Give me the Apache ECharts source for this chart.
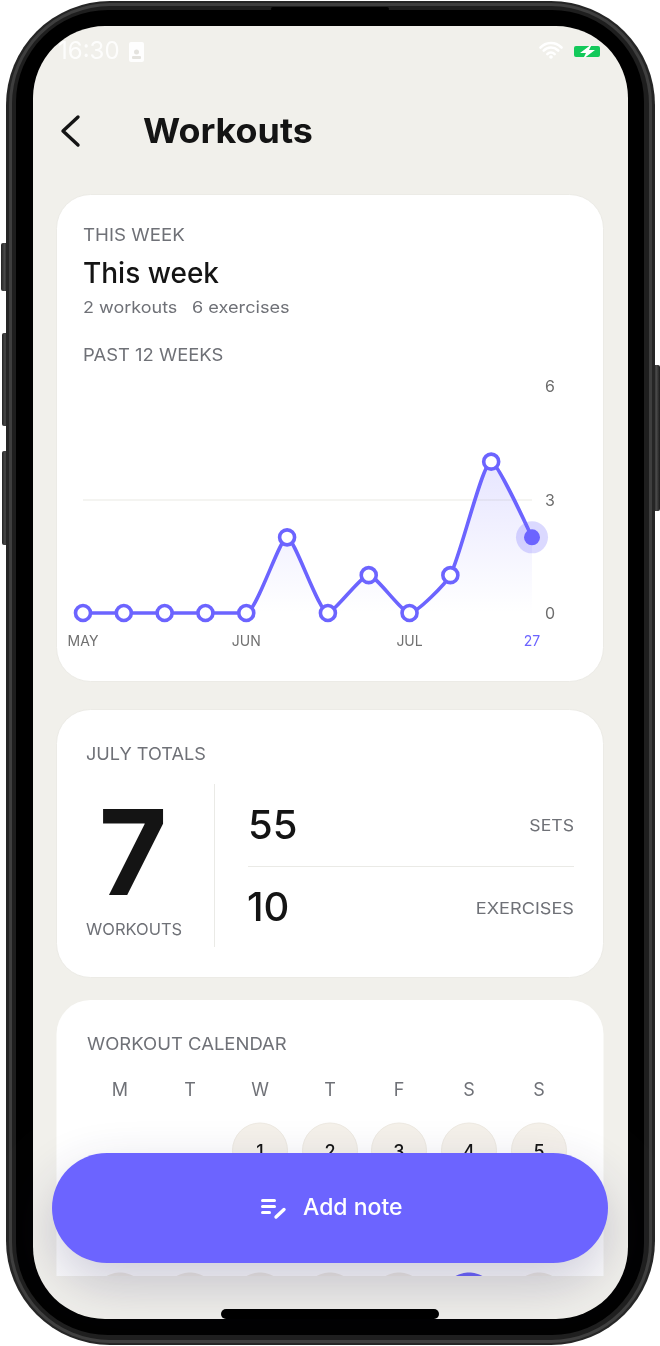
<!DOCTYPE html>
<html>
<head>
<meta charset="utf-8">
<title>Workouts</title>
<script src="https://cdn.jsdelivr.net/npm/echarts@6/dist/echarts.min.js"></script>
<style>
html, body { margin: 0; padding: 0; background: #fff; }
#main { width: 660px; height: 1346px; }
</style>
</head>
<body>
<div id="main"></div>
<script>
// past 12 weeks
var weekLabels = ['MAY', '', '', '', 'JUN', '', '', '', 'JUL', '', '', '27'];
var weeklyWorkouts = [0, 0, 0, 0, 0, 2, 0, 1, 0, 1, 4, 2];
var currentWeek = [null, null, null, null, null, null, null, null, null, null, null, 2];

// july totals
var totalWorkouts = '7';
var totalNames = ['SETS', 'EXERCISES'];
var totalValues = ['55', '10'];

// calendar
var weekDays = ['M', 'T', 'W', 'T', 'F', 'S', 'S'];
var firstRowDays = ['', '', '1', '2', '3', '4', '5'];

var FONT = 'Inter';
var PURPLE = '#6c64ff';
var BG = '#f1f0eb';
var GREY = '#6f7177';
var INK = '#141414';

var chart = echarts.init(document.getElementById('main'));

function box(x, y, w, h, r, fill, z, extra) {
    var el = {
        type: 'rect', silent: true, z: z,
        shape: { x: x, y: y, width: w, height: h, r: r },
        style: { fill: fill }
    };
    if (extra) Object.assign(el.style, extra);
    return el;
}

// stretch widens the text a little, the original font is wider and tracked out
function label(str, x, y, size, color, weight, align, z, stretch) {
    return {
        type: 'text', silent: true, z: z || -5, x: x, y: y + 3.5, scaleX: stretch || 1,
        style: {
            text: str, fill: color, align: align || 'left', verticalAlign: 'middle',
            font: (weight || 400) + ' ' + size + 'px ' + FONT
        }
    };
}

function stroke(points, color, width, z) {
    return {
        type: 'polyline', silent: true, z: z,
        shape: { points: points },
        style: { stroke: color, lineWidth: width, lineCap: 'round', lineJoin: 'round', fill: null }
    };
}

function arc(cx, cy, r) {
    return {
        type: 'arc', silent: true, z: -5,
        shape: { cx: cx, cy: cy, r: r, startAngle: -Math.PI * 0.76, endAngle: -Math.PI * 0.24 },
        style: { stroke: '#ffffff', lineWidth: 2.6, fill: null, lineCap: 'round' }
    };
}

// top of a day circle, cut off where the scrolling list ends
function dayCap(cx, cy, r, cutY, fill) {
    var half = Math.acos((cy - cutY) / r);
    var pts = [];
    for (var k = -8; k <= 8; k++) {
        var a = half * k / 8;
        pts.push([cx + Math.sin(a) * r, cy - Math.cos(a) * r]);
    }
    return { type: 'polygon', silent: true, z: -6, shape: { points: pts }, style: { fill: fill } };
}

var side = new echarts.graphic.LinearGradient(0, 0, 1, 0, [
    { offset: 0, color: '#242424' }, { offset: 0.5, color: '#484848' }, { offset: 1, color: '#1c1c1c' }
]);

var chrome = [
    // side buttons
    box(1, 243, 7, 48, 2, side, -20),
    box(2, 333, 6, 93, 2, side, -20),
    box(2, 451, 6, 94, 2, side, -20),
    box(653, 365, 7, 146, 2, side, -20),
    // phone body
    box(6, 1, 649, 1344, 104, '#252525', -19),
    box(9, 3, 643, 1340, 101, '#3e3e3e', -19),
    box(12, 6, 637, 1334, 98, '#1e1e1e', -19),
    box(16, 10, 628, 1325, 92, '#000000', -19),
    box(271, 7, 118, 4, 2, '#000000', -19),
    // screen
    box(33, 26, 595, 1293, 72, BG, -18),
    // cards
    box(56.5, 194.5, 547, 487, 34, '#ffffff', -17, { stroke: '#ecebe6', lineWidth: 1 }),
    box(56.5, 709.5, 547, 268, 34, '#ffffff', -17, { stroke: '#ecebe6', lineWidth: 1 }),
    box(56.5, 1000, 547, 276, [34, 34, 0, 0], '#ffffff', -17),
    // status bar
    label('16:30', 58, 48, 24, 'rgba(255,255,255,0.85)', 400),
    box(129, 42, 15, 20, 2, 'rgba(255,255,255,0.92)', -5),
    { type: 'circle', silent: true, z: -4, shape: { cx: 136.5, cy: 52, r: 2.5 }, style: { fill: '#e4e3de' } },
    box(132, 56, 9, 3, 1, '#e4e3de', -4),
    arc(551, 57.5, 5), arc(551, 57.5, 10), arc(551, 57.5, 14.5),
    { type: 'circle', silent: true, z: -5, shape: { cx: 551, cy: 57, r: 1.8 }, style: { fill: '#ffffff' } },
    box(574, 46, 26, 11, 2, '#13c95a', -5),
    { type: 'polygon', silent: true, z: -4, shape: { points: [[592, 44], [580, 53], [586, 53], [583, 59], [595, 50], [589, 50]] }, style: { fill: '#ffffff' } },
    // header
    stroke([[78, 117], [63, 131], [78, 145]], '#141414', 3.4, -5),
    label('Workouts', 143, 129, 34, INK, 700, 'left', -5, 1.055),
    // this week card
    label('THIS WEEK', 83, 232, 17, GREY, 400, 'left', -5, 1.1),
    label('This week', 83, 271, 28, INK, 500),
    label('2 workouts', 83, 305, 16.5, GREY, 400, 'left', -5, 1.09),
    label('6 exercises', 192, 305, 16.5, GREY, 400, 'left', -5, 1.1),
    label('PAST 12 WEEKS', 83, 352, 17, GREY, 400, 'left', -5, 1.085),
    // totals card
    label('JULY TOTALS', 86, 751, 17.5, GREY, 400, 'left', -5, 1.035),
    label(totalWorkouts, 133, 856, 118, INK, 700, 'center'),
    label('WORKOUTS', 86, 927, 16.5, GREY),
    box(214, 784, 1, 163, 0, '#eaeae6', -5),
    box(248, 866, 326, 1, 0, '#eaeae6', -5),
    label(totalValues[0], 248, 823, 40, INK, 500),
    label(totalValues[1], 247, 905, 40, INK, 500),
    label(totalNames[0], 574, 823, 16.5, GREY, 400, 'right', -5, 1.07),
    label(totalNames[1], 574, 906, 16.5, GREY, 400, 'right', -5, 1.1),
    // calendar card
    label('WORKOUT CALENDAR', 87, 1041, 17, GREY, 400, 'left', -5, 1.087)
];

var COLS = [120, 190, 260, 330, 399, 469, 539];
weekDays.forEach(function (d, i) {
    chrome.push(label(d, COLS[i], 1087, 18, GREY, 400, 'center'));
});
firstRowDays.forEach(function (d, i) {
    if (!d) return;
    chrome.push({
        type: 'circle', silent: true, z: -6, shape: { cx: COLS[i], cy: 1150.5, r: 27.5 },
        style: { fill: '#f5f1ea', stroke: '#eeeae2', lineWidth: 1 }
    });
    chrome.push(label(d, COLS[i], 1149, 18, INK, 500, 'center'));
});
// third row, only the tops show above the edge of the list
COLS.forEach(function (cx, i) {
    chrome.push(dayCap(cx, 1300, 27.5, 1276, i == 5 ? PURPLE : '#f0ece5'));
});

// floating button
chrome.push(box(221, 1309, 218, 10, 5, '#000000', 5));
chrome.push(box(52, 1153, 556, 110, 55, PURPLE, 4, {
    shadowColor: 'rgba(40,38,90,0.24)', shadowBlur: 55, shadowOffsetY: 22
}));
chrome.push(box(261, 1199, 15, 3, 1.5, '#ffffff', 6));
chrome.push(box(261, 1205, 15, 3, 1.5, '#ffffff', 6));
chrome.push(box(261, 1211, 10, 3, 1.5, '#ffffff', 6));
chrome.push(stroke([[276, 1217], [284, 1209.5]], '#ffffff', 3.4, 6));
chrome.push(label('Add note', 303, 1205, 23, '#ffffff', 500, 'left', 6));

var points = weeklyWorkouts.map(function (v, i) {
    if (i == weeklyWorkouts.length - 1) {
        return { value: v, symbolSize: 16, itemStyle: { color: PURPLE, borderColor: PURPLE, borderWidth: 0 } };
    }
    return v;
});

chart.setOption({
    animation: false,
    backgroundColor: '#ffffff',
    textStyle: { fontFamily: FONT },
    grid: { left: 83, top: 386, width: 449, height: 227, containLabel: false },
    xAxis: {
        type: 'category',
        boundaryGap: false,
        data: weekLabels,
        axisLine: { show: false },
        axisTick: { show: false },
        splitLine: { show: false },
        axisLabel: {
            interval: 0,
            hideOverlap: false,
            margin: 22,
            fontSize: 14,
            color: '#707070',
            formatter: function (v, i) {
                return i == weekLabels.length - 1 ? '{now|' + v + '}' : v;
            },
            rich: { now: { color: PURPLE, fontSize: 14, fontFamily: FONT } }
        }
    },
    yAxis: {
        type: 'value',
        position: 'right',
        min: 0,
        max: 6,
        interval: 3,
        axisLine: { show: false },
        axisTick: { show: false },
        axisLabel: {
            margin: 13,
            align: 'left',
            formatter: '{t|{value}}',
            rich: { t: { fontSize: 16, color: '#6d6d6d', fontFamily: FONT, padding: [3, 0, 0, 0] } }
        },
        splitLine: { showMinLine: false, showMaxLine: false, lineStyle: { color: '#f0f0ed', width: 1.5 } }
    },
    series: [
        {
            type: 'scatter',
            data: currentWeek,
            symbolSize: 32,
            silent: true,
            z: 1,
            clip: false,
            itemStyle: { color: 'rgba(108,100,255,0.3)' }
        },
        {
            name: 'Workouts',
            type: 'line',
            data: points,
            smooth: 0.18,
            clip: false,
            symbol: 'circle',
            symbolSize: 15,
            showAllSymbol: true,
            z: 3,
            lineStyle: { color: PURPLE, width: 3.6 },
            itemStyle: { color: '#ffffff', borderColor: PURPLE, borderWidth: 3.6 },
            areaStyle: {
                color: new echarts.graphic.LinearGradient(0, 0, 0, 1, [
                    { offset: 0, color: 'rgba(108,100,255,0.24)' },
                    { offset: 1, color: 'rgba(108,100,255,0)' }
                ])
            }
        }
    ],
    graphic: { elements: chrome }
});
</script>
</body>
</html>
